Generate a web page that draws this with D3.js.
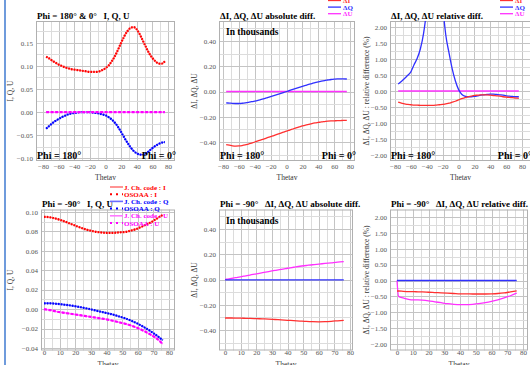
<!DOCTYPE html>
<html>
<head>
<meta charset="utf-8">
<script src="https://cdn.jsdelivr.net/npm/d3@7"></script>
<style>
  body { margin: 0; background: #fff; }
  svg { display: block; font-family: "Liberation Serif", "DejaVu Serif", serif; }
  text { white-space: pre; }
</style>
</head>
<body>
<svg id="chart" width="530" height="365"></svg>
<script>
// ---- data ----
const thetaTop = [-76,-72,-68,-64,-60,-56,-52,-48,-44,-40,-36,-32,-28,-24,-20,-16,-12,-8,-4,0,4,8,12,16,20,24,28,32,36,40,44,48,52,56,60,64,68,72,76];
const thetaBottom = [0,1,4,8,12,16,20,24,28,32,36,40,44,48,52,56,60,64,68,72,76];

// Phi = 180 & 0 : I, Q, U
const iTop = [0.120,0.116,0.111,0.107,0.103,0.100,0.097,0.095,0.093,0.092,0.091,0.090,0.089,0.088,0.087,0.087,0.087,0.088,0.091,0.095,0.101,0.110,0.121,0.135,0.150,0.164,0.175,0.182,0.184,0.179,0.168,0.154,0.140,0.127,0.117,0.110,0.105,0.105,0.110];
const qTop = [-0.036,-0.030,-0.024,-0.019,-0.015,-0.011,-0.008,-0.005,-0.003,-0.002,-0.001,0.000,0.000,0.000,0.000,-0.001,-0.002,-0.003,-0.005,-0.007,-0.011,-0.016,-0.023,-0.032,-0.043,-0.055,-0.066,-0.076,-0.084,-0.089,-0.092,-0.092,-0.089,-0.084,-0.078,-0.073,-0.069,-0.066,-0.065];
const uTop = [0,0,0,0,0,0,0,0,0,0,0,0,0,0,0,0,0,0,0,0,0,0,0,0,0,0,0,0,0,0,0,0,0,0,0,0,0,0,0];

// Phi = 180 & 0 : absolute diff (thousands)
const dIAbsTop = [-0.420,-0.425,-0.430,-0.432,-0.431,-0.428,-0.423,-0.416,-0.409,-0.400,-0.392,-0.383,-0.375,-0.366,-0.358,-0.349,-0.340,-0.331,-0.322,-0.313,-0.305,-0.297,-0.289,-0.281,-0.273,-0.266,-0.260,-0.254,-0.249,-0.245,-0.241,-0.238,-0.235,-0.233,-0.232,-0.231,-0.230,-0.229,-0.229];
const dQAbsTop = [-0.090,-0.092,-0.094,-0.095,-0.095,-0.093,-0.090,-0.086,-0.081,-0.076,-0.070,-0.063,-0.056,-0.048,-0.040,-0.032,-0.024,-0.016,-0.008,0.000,0.008,0.016,0.024,0.032,0.040,0.048,0.056,0.063,0.070,0.076,0.082,0.087,0.091,0.095,0.098,0.100,0.100,0.100,0.099];
const dUAbsTop = [0,0,0,0,0,0,0,0,0,0,0,0,0,0,0,0,0,0,0,0,0,0,0,0,0,0,0,0,0,0,0,0,0,0,0,0,0,0,0];

// Phi = 180 & 0 : relative diff (%)
const dIRelTop = [-0.35,-0.38,-0.40,-0.42,-0.43,-0.44,-0.44,-0.45,-0.45,-0.45,-0.45,-0.45,-0.44,-0.43,-0.42,-0.40,-0.38,-0.35,-0.32,-0.28,-0.24,-0.21,-0.18,-0.16,-0.14,-0.13,-0.12,-0.12,-0.12,-0.13,-0.14,-0.15,-0.16,-0.18,-0.19,-0.20,-0.21,-0.22,-0.23];
const dQRelTop = [0.22,0.30,0.39,0.49,0.60,0.82,1.02,1.32,1.80,2.6,4.0,6.5,8.0,5.0,2.8,1.75,1.2,0.7,0.32,0.05,-0.10,-0.16,-0.18,-0.18,-0.17,-0.15,-0.13,-0.12,-0.11,-0.10,-0.10,-0.11,-0.12,-0.13,-0.15,-0.16,-0.17,-0.18,-0.18];
const dURelTop = [0,0,0,0,0,0,0,0,0,0,0,0,0,0,0,0,0,0,0,0,0,0,0,0,0,0,0,0,0,0,0,0,0,0,0,0,0,0,0];

// Phi = -90 : I, Q, U
const iBottom = [0.095,0.095,0.0945,0.093,0.091,0.0885,0.086,0.0835,0.0815,0.080,0.079,0.0785,0.0785,0.079,0.0795,0.081,0.083,0.086,0.089,0.093,0.097];
const qBottom = [0.006,0.006,0.006,0.0055,0.0048,0.004,0.003,0.0018,0.0005,-0.001,-0.0025,-0.004,-0.0055,-0.0075,-0.0095,-0.012,-0.015,-0.0185,-0.0225,-0.027,-0.032];
const uBottom = [0.000,-0.0003,-0.001,-0.0025,-0.0035,-0.0045,-0.0055,-0.0065,-0.0075,-0.0085,-0.0095,-0.0105,-0.012,-0.0135,-0.015,-0.017,-0.0195,-0.0225,-0.026,-0.030,-0.036];

// Phi = -90 : absolute diff (thousands)
const dIAbsBottom = [-0.305,-0.305,-0.305,-0.306,-0.307,-0.308,-0.310,-0.312,-0.314,-0.317,-0.320,-0.323,-0.326,-0.329,-0.332,-0.334,-0.335,-0.334,-0.331,-0.327,-0.323];
const dQAbsBottom = [-0.003,-0.003,-0.003,-0.003,-0.003,-0.003,-0.003,-0.003,-0.003,-0.003,-0.003,-0.003,-0.003,-0.003,-0.003,-0.003,-0.003,-0.003,-0.003,-0.003,-0.003];
const dUAbsBottom = [0.000,0.002,0.008,0.017,0.026,0.035,0.045,0.054,0.063,0.072,0.081,0.089,0.097,0.105,0.111,0.117,0.122,0.127,0.132,0.137,0.141];

// Phi = -90 : relative diff (%)
const dIRelBottom = [-0.33,-0.33,-0.34,-0.35,-0.355,-0.36,-0.37,-0.38,-0.39,-0.40,-0.41,-0.42,-0.42,-0.425,-0.425,-0.425,-0.42,-0.41,-0.39,-0.36,-0.33];
const dQRelBottom = [0,0,0,0,0,0,0,0,0,0,0,0,0,0,0,0,0,0,0,0,0];
const dURelBottom = [0,-0.50,-0.55,-0.60,-0.61,-0.62,-0.64,-0.67,-0.70,-0.73,-0.75,-0.76,-0.76,-0.75,-0.73,-0.70,-0.66,-0.61,-0.55,-0.48,-0.40];

const xLabelsTop = [-80,-60,-40,-20,0,20,40,60,80];
const xLabelsBottom = [0,10,20,30,40,50,60,70,80];
const yLabelsValTop = [-0.10,-0.05,0.00,0.05,0.10,0.15];
const yLabelsValBottom = [-0.04,-0.02,0.00,0.02,0.04,0.06,0.08,0.10];
const yLabelsAbs = [-0.40,-0.20,0.00,0.20,0.40];
const yLabelsRel = [-2.00,-1.50,-1.00,-0.50,0.00,0.50,1.00,1.50,2.00];

const seriesNames = ['I', 'Q', 'U'];
const legendCodes = ['J. Ch. code : I', 'OSOAA : I', 'J. Ch. code : Q', 'OSOAA : Q', 'J. Ch. code : U', 'OSOAA : U'];
const legendDiff = ['\u0394I', '\u0394Q', '\u0394U'];

// ---- styling ----
const col = { I: '#ff0000', Q: '#0000ff', U: '#ff00ff' };
const colLight = { I: '#ff7a7a', Q: '#6a6aff', U: '#ff7aff' };
const colDiff = { I: '#ff3030', Q: '#3030ff', U: '#ff30ff' };

const svg = d3.select('#chart');
svg.append('rect').attr('width', 530).attr('height', 365).attr('fill', '#fff');
svg.append('line').attr('x1', 5).attr('x2', 5).attr('y1', 0).attr('y2', 365)
   .attr('stroke', '#6f9bdc').attr('stroke-width', 2);

const panels = [
  { id: 'p1', kind: 'val', theta: thetaTop, data: [iTop, qTop, uTop],
    frame: [36, 175, 21, 161], xs: [[-80, 80], [43, 168]], ys: [[-0.10, 0.15], [158.3, 42.8]],
    xLabels: xLabelsTop, xGrid: 10, yLabels: yLabelsValTop, yGrid: 0.025, fmt: d3.format('.2f'),
    title: 'Phi = 180\u00b0 & 0\u00b0   I, Q, U', titleY: 18.5, yTitle: 'I, Q, U', yTitleX: 13,
    xTitleY: 180, phi: true, xTickY: 170 },
  { id: 'p2', kind: 'abs', theta: thetaTop, data: [dIAbsTop, dQAbsTop, dUAbsTop],
    frame: [219, 355, 21, 161], xs: [[-80, 80], [223, 350]], ys: [[-0.4, 0.4], [142, 41]],
    xLabels: xLabelsTop, xGrid: 10, yLabels: yLabelsAbs, yGrid: 0.1, fmt: d3.format('.2f'),
    title: '\u0394I, \u0394Q, \u0394U absolute diff.', titleY: 18.5, yTitle: '\u0394I, \u0394Q, \u0394U', yTitleX: 197,
    xTitleY: 180, phi: true, xTickY: 170, legendX: 328 },
  { id: 'p3', kind: 'rel', theta: thetaTop, data: [dIRelTop, dQRelTop, dURelTop],
    frame: [390, 531, 21, 161], xs: [[-80, 80], [395, 522]], ys: [[-2, 2], [155, 27]],
    xLabels: xLabelsTop, xGrid: 10, yLabels: yLabelsRel, yGrid: 0.25, fmt: d3.format('.2f'),
    title: '\u0394I, \u0394Q, \u0394U relative diff.', titleY: 18.5,
    yTitle: '\u0394I, \u0394Q, \u0394U : relative difference (%)', yTitleX: 369,
    xTitleY: 180, phi: true, xTickY: 170, legendX: 500 },
  { id: 'p4', kind: 'val', theta: thetaBottom, data: [iBottom, qBottom, uBottom],
    frame: [41, 175, 209.5, 350.5], xs: [[0, 80], [44, 169]], ys: [[-0.04, 0.10], [348, 212]],
    xLabels: xLabelsBottom, xGrid: 5, yLabels: yLabelsValBottom, yGrid: 0.01, fmt: d3.format('.2f'),
    title: 'Phi = -90\u00b0   I, Q, U', titleY: 206.5, yTitle: 'I, Q, U', yTitleX: 13,
    xTitleY: 367, phi: false, xTickY: 356.5, codeLegend: true },
  { id: 'p5', kind: 'abs', theta: thetaBottom, data: [dIAbsBottom, dQAbsBottom, dUAbsBottom],
    frame: [219, 353, 209.5, 350.5], xs: [[0, 80], [225, 350]], ys: [[-0.4, 0.4], [330, 229]],
    xLabels: xLabelsBottom, xGrid: 5, yLabels: yLabelsAbs, yGrid: 0.1, fmt: d3.format('.2f'),
    title: 'Phi = -90\u00b0   \u0394I, \u0394Q, \u0394U absolute diff.', titleY: 206.5,
    yTitle: '\u0394I, \u0394Q, \u0394U', yTitleX: 197, xTitleY: 367, phi: false, xTickY: 356.5 },
  { id: 'p6', kind: 'rel', theta: thetaBottom, data: [dIRelBottom, dQRelBottom, dURelBottom],
    frame: [390, 528, 209.5, 350.5], xs: [[0, 80], [397, 523]], ys: [[-2, 2], [344, 217]],
    xLabels: xLabelsBottom, xGrid: 5, yLabels: yLabelsRel, yGrid: 0.25, fmt: d3.format('.2f'),
    title: 'Phi = -90\u00b0   \u0394I, \u0394Q, \u0394U relative diff.', titleY: 206.5,
    yTitle: '\u0394I, \u0394Q, \u0394U : relative difference (%)', yTitleX: 369,
    xTitleY: 367, phi: false, xTickY: 356.5 }
];

panels.forEach(p => drawPanel(p));

function drawPanel(p) {
  const [l, r, t, b] = p.frame;
  const x = d3.scaleLinear().domain(p.xs[0]).range(p.xs[1]);
  const y = d3.scaleLinear().domain(p.ys[0]).range(p.ys[1]);
  const g = svg.append('g');

  g.append('clipPath').attr('id', 'clip-' + p.id)
    .append('rect').attr('x', l).attr('y', t).attr('width', r - l).attr('height', b - t);

  // grid
  const xg = d3.range(-200, 201, p.xGrid).filter(v => x(v) > l + 0.5 && x(v) < r - 0.5);
  const [y0, y1] = [y.invert(b), y.invert(t)];
  const yg = d3.range(Math.ceil(y0 / p.yGrid), Math.floor(y1 / p.yGrid) + 1)
    .map(k => +(k * p.yGrid).toFixed(4));
  const isMajorY = v => p.yLabels.some(m => Math.abs(m - v) < 1e-6);
  const isMajorX = v => p.xLabels.includes(v);

  g.selectAll('.gx').data(xg).join('line')
    .attr('x1', d => Math.round(x(d)) + 0.5).attr('x2', d => Math.round(x(d)) + 0.5)
    .attr('y1', t).attr('y2', b)
    .attr('stroke', d => isMajorX(d) ? '#c4c4c4' : '#dcdcdc').attr('stroke-width', 1);
  g.selectAll('.gy').data(yg).join('line')
    .attr('x1', l).attr('x2', r)
    .attr('y1', d => Math.round(y(d)) + 0.5).attr('y2', d => Math.round(y(d)) + 0.5)
    .attr('stroke', d => isMajorY(d) ? '#c4c4c4' : '#dcdcdc').attr('stroke-width', 1);

  g.append('rect').attr('x', l + 0.5).attr('y', t + 0.5).attr('width', r - l - 1).attr('height', b - t - 1)
    .attr('fill', 'none').attr('stroke', '#b0b0b0');

  // axes (labels only)
  const ax = g.append('g').attr('transform', `translate(0,${p.xTickY - 6})`)
    .call(d3.axisBottom(x).tickValues(p.xLabels).tickSize(0).tickPadding(0).tickFormat(d3.format('d')));
  const ay = g.append('g').attr('transform', `translate(${l - 3},0)`)
    .call(d3.axisLeft(y).tickValues(p.yLabels).tickSize(0).tickPadding(0).tickFormat(p.fmt));
  [ax, ay].forEach(a => {
    a.attr('font-family', null);
    a.select('.domain').remove();
    a.selectAll('text').attr('font-size', 7).attr('fill', '#555')
      .attr('font-family', '"Liberation Serif", serif');
  });
  ax.selectAll('text').attr('dy', '0.71em');

  // series
  const line = vals => d3.line()
    .x((d, i) => x(p.theta[i])).y(d => y(d))
    .curve(d3.curveMonotoneX)(vals);
  const sg = g.append('g').attr('clip-path', `url(#clip-${p.id})`);
  if (p.kind === 'val') {
    p.data.forEach((vals, k) => {
      const name = seriesNames[k];
      sg.append('path').attr('d', line(vals)).attr('fill', 'none')
        .attr('stroke', colLight[name]).attr('stroke-width', 1.4);
      sg.append('path').attr('d', line(vals)).attr('fill', 'none')
        .attr('stroke', col[name]).attr('stroke-width', 2.2)
        .attr('stroke-dasharray', name === 'U' ? '3,1.5' : '1.6,1.2');
    });
  } else {
    [2, 1, 0].forEach(k => {
      const name = seriesNames[k];
      sg.append('path').attr('d', line(p.data[k])).attr('fill', 'none')
        .attr('stroke', colDiff[name]).attr('stroke-width', 1.3);
    });
  }

  // texts
  const bold = (sel) => sel.attr('font-weight', 'bold').attr('fill', '#000');
  bold(g.append('text').attr('x', l + 1).attr('y', p.titleY).attr('font-size', 9)
    .attr('xml:space', 'preserve').text(p.title));
  if (p.kind === 'abs') {
    bold(g.append('text').attr('x', l + 7).attr('y', t + 14).attr('font-size', 9.5).text('In thousands'));
  }
  if (p.phi) {
    bold(g.append('text').attr('x', l + 1).attr('y', b - 2.5).attr('font-size', 10).text('Phi = 180\u00b0'));
    bold(g.append('text').attr('x', r + 1).attr('y', b - 2.5).attr('font-size', 10)
      .attr('text-anchor', 'end').text('Phi = 0\u00b0'));
  }
  g.append('text').attr('transform', `translate(${p.yTitleX},${(t + b) / 2}) rotate(-90)`)
    .attr('text-anchor', 'middle').attr('font-size', 7.5).attr('fill', '#333').text(p.yTitle);
  g.append('text').attr('x', (l + r) / 2).attr('y', p.xTitleY).attr('text-anchor', 'middle')
    .attr('font-size', 7.5).attr('fill', '#333').text('Thetav');

  if (p.legendX) {
    legendDiff.forEach((txt, k) => {
      const ly = 0.5 + k * 6.6;
      const name = seriesNames[k];
      g.append('line').attr('x1', p.legendX).attr('x2', p.legendX + 13).attr('y1', ly).attr('y2', ly)
        .attr('stroke', colDiff[name]).attr('stroke-width', 1.3);
      g.append('text').attr('x', p.legendX + 15).attr('y', ly + 2.5).attr('font-size', 7)
        .attr('font-weight', 'bold').attr('fill', colDiff[name]).text(txt);
    });
  }
  if (p.codeLegend) {
    legendCodes.forEach((txt, k) => {
      const ly = 187 + k * 7.2;
      const name = seriesNames[Math.floor(k / 2)];
      const ln = g.append('line').attr('x1', 110).attr('x2', 123).attr('y1', ly).attr('y2', ly);
      if (k % 2 === 0) ln.attr('stroke', colLight[name]).attr('stroke-width', 1.6);
      else ln.attr('stroke', col[name]).attr('stroke-width', 2).attr('stroke-dasharray', '2,4');
      g.append('text').attr('x', 124).attr('y', ly + 2.5).attr('font-size', 7)
        .attr('font-weight', 'bold').attr('fill', col[name]).text(txt);
    });
  }
}
</script>
</body>
</html>
